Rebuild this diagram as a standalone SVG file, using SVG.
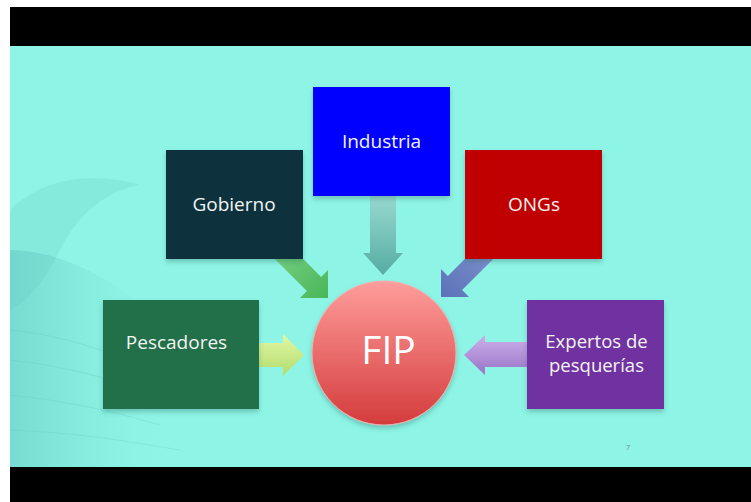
<svg xmlns="http://www.w3.org/2000/svg" width="751" height="502" viewBox="0 0 751 502">
  <defs>
    <linearGradient id="waveL" x1="0" y1="0" x2="1" y2="0">
      <stop offset="0" stop-color="#5fc2bb" stop-opacity="0.5"/>
      <stop offset="0.6" stop-color="#6fd6cb" stop-opacity="0.18"/>
      <stop offset="1" stop-color="#8ef5e6" stop-opacity="0"/>
    </linearGradient>
    <linearGradient id="gInd" x1="0" y1="0" x2="0" y2="1">
      <stop offset="0" stop-color="#9cdcd3"/>
      <stop offset="1" stop-color="#56aca3"/>
    </linearGradient>
    <linearGradient id="gGob" x1="0" y1="0" x2="1" y2="1">
      <stop offset="0" stop-color="#86d88e"/>
      <stop offset="1" stop-color="#49b659"/>
    </linearGradient>
    <linearGradient id="gOng" x1="1" y1="0" x2="0" y2="1">
      <stop offset="0" stop-color="#8797d0"/>
      <stop offset="1" stop-color="#5a72b8"/>
    </linearGradient>
    <linearGradient id="gPes" x1="0" y1="0" x2="0" y2="1">
      <stop offset="0" stop-color="#e2f8a6"/>
      <stop offset="1" stop-color="#b2dc6c"/>
    </linearGradient>
    <linearGradient id="gExp" x1="0" y1="0" x2="0" y2="1">
      <stop offset="0" stop-color="#cdb0ea"/>
      <stop offset="1" stop-color="#9874c6"/>
    </linearGradient>
    <linearGradient id="gFip" x1="0" y1="0" x2="0" y2="1">
      <stop offset="0" stop-color="#ff9d9b"/>
      <stop offset="1" stop-color="#d43c3c"/>
    </linearGradient>
    <filter id="sh" x="-20%" y="-20%" width="140%" height="150%">
      <feDropShadow dx="0" dy="3" stdDeviation="2.5" flood-color="#2a6a62" flood-opacity="0.35"/>
    </filter>
  </defs>
  <style>
    .lbl { font-family: "Open Sans", "Noto Sans", "Liberation Sans", sans-serif; font-size: 19px; fill: #f4f4f4; text-anchor: middle; }
    .box { filter: url(#sh); }
  </style>

  <!-- frame / background -->
  <rect x="0" y="0" width="751" height="502" fill="#ffffff"/>
  <rect x="10" y="7" width="741" height="39" fill="#000000"/>
  <rect x="10" y="46" width="741" height="421" fill="#8ef5e6"/>
  <rect x="10" y="467" width="741" height="35" fill="#000000"/>

  <!-- wave hint on the left -->
  <g id="background-wave">
    <path d="M10 210 C40 180 90 170 140 185 C110 190 80 210 60 250 C45 280 30 300 10 310 Z" fill="#6ccfc6" opacity="0.3"/>
    <path d="M10 250 C60 250 120 280 170 330 L170 467 L10 467 Z" fill="url(#waveL)"/>
    <path d="M10 330 C60 335 110 350 160 375 M10 360 C60 365 120 380 170 400 M10 395 C60 400 110 410 160 425 M10 430 C70 432 120 440 180 450" stroke="#5fbdb6" stroke-width="1.2" fill="none" opacity="0.22"/>
  </g>

  <!-- connectors -->
  <g id="connectors">
    <polygon points="370,190 396,190 396,253 403,253 383,275 363,253 370,253" fill="url(#gInd)"/>
    <polygon points="262.9,247.1 277.1,232.9 321.1,276.9 328,270 328,298 300,298 306.9,291.1" fill="url(#gGob)"/>
    <polygon points="502.1,250.1 487.9,235.9 447.9,275.9 441,269 441,297 469,297 462.1,290.1" fill="url(#gOng)"/>
    <polygon points="250,343 283,343 283,334 304,355 283,376 283,367 250,367" fill="url(#gPes)"/>
    <polygon points="535,342 485,342 485,335 464,355 485,375 485,367 535,367" fill="url(#gExp)"/>
  </g>

  <g id="industria">
    <rect class="box" x="313" y="87" width="137" height="109" fill="#0000ff"/>
    <text class="lbl" x="381.5" y="148">Industria</text>
  </g>
  <g id="gobierno">
    <rect class="box" x="166" y="150" width="137" height="109" fill="#11303d"/>
    <text class="lbl" x="234" y="210.5">Gobierno</text>
  </g>
  <g id="ongs">
    <rect class="box" x="465" y="150" width="137" height="109" fill="#c00000"/>
    <text class="lbl" x="534" y="210.5">ONGs</text>
  </g>
  <g id="pescadores">
    <rect class="box" x="103" y="300" width="156" height="109" fill="#24704a"/>
    <text class="lbl" x="176.5" y="349">Pescadores</text>
  </g>
  <g id="expertos">
    <rect class="box" x="527" y="300" width="137" height="109" fill="#7030a0"/>
    <text class="lbl" x="596.5" y="348" style="font-size:18.5px">Expertos de</text>
    <text class="lbl" x="596.5" y="372" style="font-size:18.5px">pesquerías</text>
  </g>
  <g id="fip">
    <circle cx="384" cy="353" r="72" fill="url(#gFip)" stroke="#f2b0ad" stroke-width="1" filter="url(#sh)"/>
    <text x="388.5" y="364" font-family="'Open Sans', 'Noto Sans', 'Liberation Sans', sans-serif" font-size="39" fill="#ffffff" text-anchor="middle">FIP</text>
  </g>

  <text x="628" y="450" font-family="'Open Sans', 'Liberation Sans', sans-serif" font-size="8" fill="#6f9893" text-anchor="middle">7</text>
</svg>
